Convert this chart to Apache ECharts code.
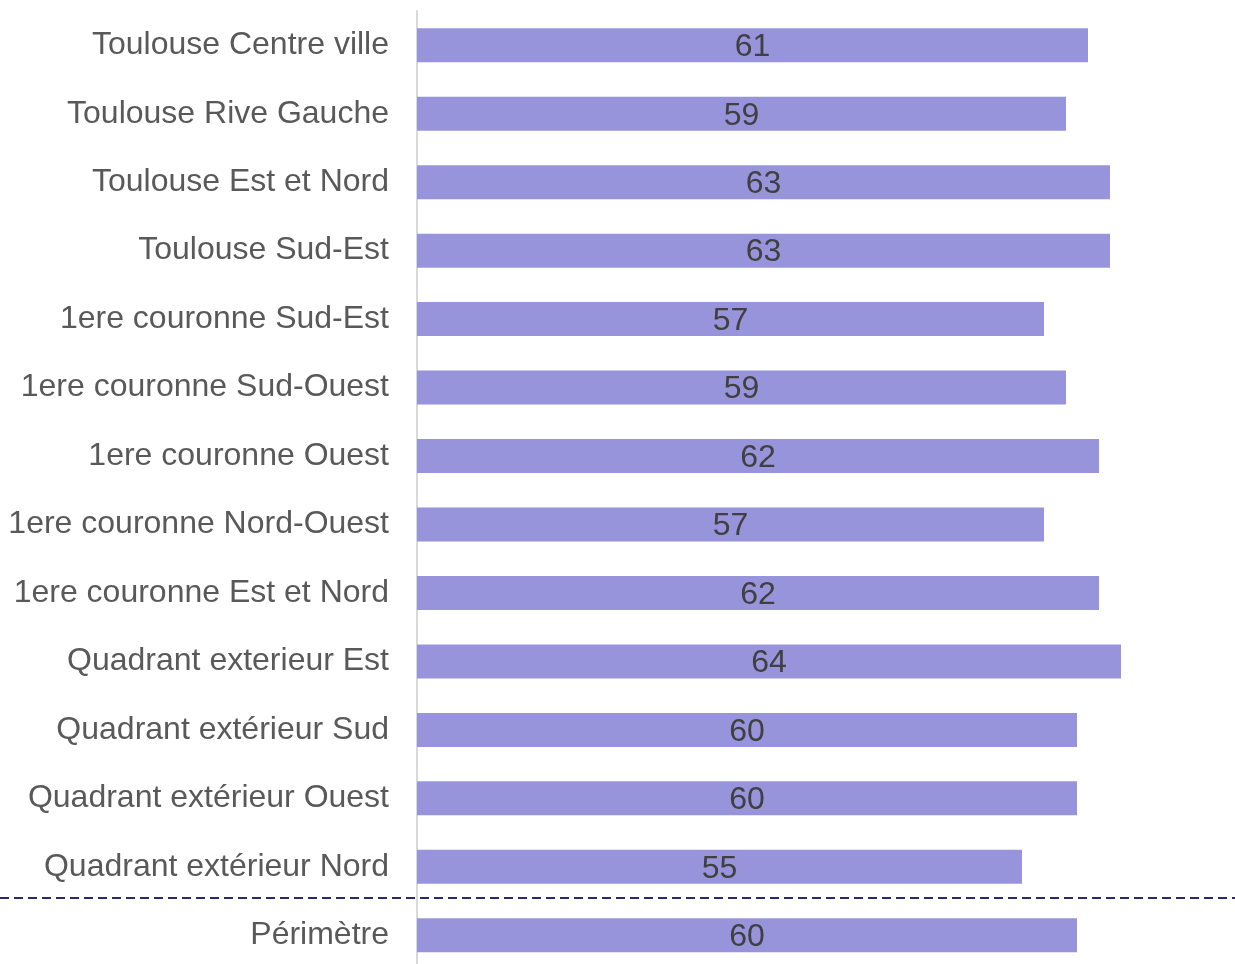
<!DOCTYPE html>
<html>
<head>
<meta charset="utf-8">
<title>Périmètre</title>
<script src="https://cdn.jsdelivr.net/npm/echarts@6/dist/echarts.min.js"></script>
<style>
  html, body { margin: 0; padding: 0; background: #fff; }
  #chart { width: 1235px; height: 964px; }
</style>
</head>
<body>
<div id="chart"></div>
<script>
// secteurs (du haut vers le bas)
const categories = [
  'Toulouse Centre ville',
  'Toulouse Rive Gauche',
  'Toulouse Est et Nord',
  'Toulouse Sud-Est',
  '1ere couronne Sud-Est',
  '1ere couronne Sud-Ouest',
  '1ere couronne Ouest',
  '1ere couronne Nord-Ouest',
  '1ere couronne Est et Nord',
  'Quadrant exterieur Est',
  'Quadrant extérieur Sud',
  'Quadrant extérieur Ouest',
  'Quadrant extérieur Nord',
  'Périmètre'
];
const values = [61, 59, 63, 63, 57, 59, 62, 57, 62, 64, 60, 60, 55, 60];

const textFont = 'Liberation Sans, Arial, sans-serif';

const chart = echarts.init(document.getElementById('chart'));

const options = {
  animation: false,
  grid: {
    left: 417,
    top: 11,
    width: 825,
    height: 958.5,
    outerBoundsMode: 'none'
  },
  xAxis: {
    type: 'value',
    min: 0,
    max: 75,
    show: false,
    splitLine: { show: false }
  },
  yAxis: {
    type: 'category',
    inverse: true,
    data: categories,
    axisLine: { lineStyle: { color: '#d9d9d9', width: 2 } },
    axisTick: { length: 10, lineStyle: { color: '#d9d9d9', width: 2 } },
    axisLabel: {
      margin: 28,
      color: '#595959',
      fontSize: 32,
      fontFamily: textFont
    }
  },
  series: [
    {
      type: 'bar',
      data: values,
      barWidth: 34,
      itemStyle: { color: '#9794dc' },
      label: {
        show: true,
        position: 'inside',
        color: '#404040',
        fontSize: 32,
        fontFamily: textFont,
        offset: [0, 2]
      }
    }
  ]
};
chart.setOption(options);

// ligne pointillée séparant le périmètre des secteurs (un peu au-dessus de la limite)
const yA = chart.convertToPixel({ yAxisIndex: 0 }, categories.length - 2);
const yB = chart.convertToPixel({ yAxisIndex: 0 }, categories.length - 1);
const ySep = Math.round((yA + yB) / 2) - 3;
chart.setOption({
  graphic: [{
    type: 'line',
    shape: { x1: 0, y1: ySep, x2: 1235, y2: ySep },
    style: { stroke: '#2b2870', lineWidth: 2, lineDash: [9, 5] },
    z: 10
  }]
});

window.addEventListener('resize', () => {
  chart.resize();
});
</script>
</body>
</html>
